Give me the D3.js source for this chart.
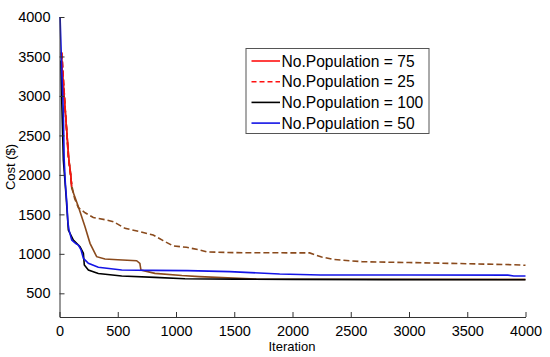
<!DOCTYPE html>
<html>
<head>
<meta charset="utf-8">
<script src="https://cdn.jsdelivr.net/npm/d3@7"></script>
<style>
  html, body { margin: 0; padding: 0; background: #fff; }
  svg { display: block; font-family: "Liberation Sans", Arial, sans-serif; }
</style>
</head>
<body>
<svg id="chart" width="550" height="357"></svg>
<script>
// ---- data ----
const xTicks = [0, 500, 1000, 1500, 2000, 2500, 3000, 3500, 4000];
const yTicks = [500, 1000, 1500, 2000, 2500, 3000, 3500, 4000];
const seriesNames = ["No.Population = 75", "No.Population = 25", "No.Population = 100", "No.Population = 50"];

// [iteration, cost]
const pop75 = [[15,3550],[25,3300],[45,2900],[60,2600],[80,2200],[97,2000],[105,1830],[162,1597],[219,1344],[262,1133],[319,964],[390,935],[500,925],[662,913],[690,880],[699,795],[819,753],[1050,725],[1200,712],[1690,682],[2500,679],[4000,677]];
const pop25 = [[20,3550],[48,2860],[76,2230],[105,1870],[130,1700],[162,1585],[220,1520],[290,1460],[405,1428],[462,1408],[562,1323],[690,1281],[804,1239],[890,1167],[976,1100],[1090,1083],[1204,1049],[1262,1025],[1500,1015],[2147,1012],[2250,960],[2350,930],[2600,900],[3000,890],[3500,875],[3900,862],[4000,855]];
const pop100 = [[11,3450],[20,2900],[33,2189],[57,1724],[76,1302],[119,1175],[176,1091],[205,1007],[213,859],[248,795],[333,752],[534,719],[819,702],[1076,685],[1500,680],[2000,677],[2800,673],[4000,671]];
const pop50 = [[5,4000],[20,3300],[33,2800],[40,2200],[50,1900],[63,1640],[72,1400],[82,1300],[105,1175],[140,1130],[162,1112],[185,1049],[205,943],[248,880],[333,829],[534,795],[800,790],[1100,787],[1460,775],[1890,744],[2240,732],[3000,732],[3850,730],[3900,719],[4000,719]];

const redTopLimit = 1850; // above this cost the "red" series are drawn red, below it brown

// ---- layout ----
const svg = d3.select("#chart");
const x = d3.scaleLinear().domain([0, 4000]).range([59.5, 525.5]);
const y = d3.scaleLinear().domain([200, 4000]).range([317, 17]);

const line = d3.line().x(d => x(d[0])).y(d => y(d[1]));

svg.append("defs").append("clipPath").attr("id", "redclip")
  .append("rect").attr("x", 0).attr("y", 0).attr("width", 550).attr("height", y(redTopLimit));

const RED = "#ff1010", BROWN = "#8a4a1c", BLACK = "#000000", BLUE = "#1414e6";

const g = svg.append("g");
// 75 solid
g.append("path").datum(pop75).attr("d", line).attr("fill", "none").attr("stroke", BROWN).attr("stroke-width", 1.6);
g.append("path").datum(pop75).attr("d", line).attr("fill", "none").attr("stroke", RED).attr("stroke-width", 1.6).attr("clip-path", "url(#redclip)");
// 25 dashed
g.append("path").datum(pop25).attr("d", line).attr("fill", "none").attr("stroke", BROWN).attr("stroke-width", 1.6).attr("stroke-dasharray", "6,3");
g.append("path").datum(pop25).attr("d", line).attr("fill", "none").attr("stroke", RED).attr("stroke-width", 1.6).attr("stroke-dasharray", "6,3").attr("clip-path", "url(#redclip)");
// 100
g.append("path").datum(pop100).attr("d", line).attr("fill", "none").attr("stroke", BLACK).attr("stroke-width", 1.6);
// 50
g.append("path").datum(pop50).attr("d", line).attr("fill", "none").attr("stroke", BLUE).attr("stroke-width", 1.6);

// ---- axes ----
const xAxis = d3.axisBottom(x).tickValues(xTicks).tickSizeInner(-5).tickSizeOuter(0).tickPadding(9).tickFormat(d3.format("d"));
const yAxis = d3.axisLeft(y).tickValues(yTicks).tickSizeInner(-5).tickSizeOuter(0).tickPadding(9).tickFormat(d3.format("d"));

const gx = svg.append("g").attr("transform", `translate(0,${y(200)})`).call(xAxis);
const gy = svg.append("g").attr("transform", `translate(${x(0)},0)`).call(yAxis);
[gx, gy].forEach(a => {
  a.select(".domain").attr("stroke", "#333").attr("stroke-width", 1);
  a.selectAll(".tick line").attr("stroke", "#333");
  a.selectAll(".tick text").attr("fill", "#000").style("font-size", "14.5px").style("font-family", "'Liberation Sans', Arial, sans-serif");
});

svg.append("text").attr("x", 292).attr("y", 351).attr("text-anchor", "middle")
  .style("font-size", "13px").text("Iteration");
svg.append("text").attr("transform", "translate(15,167) rotate(-90)").attr("text-anchor", "middle")
  .style("font-size", "13px").text("Cost ($)");

// ---- legend ----
const legend = svg.append("g");
legend.append("rect").attr("x", 246).attr("y", 48.5).attr("width", 183).attr("height", 85)
  .attr("fill", "#fff").attr("stroke", "#555").attr("stroke-width", 1);
const legColors = [RED, RED, BLACK, BLUE];
const legDash = [null, "5,3", null, null];
seriesNames.forEach((name, i) => {
  const cy = 61 + i * 20.7;
  legend.append("line").attr("x1", 251.5).attr("x2", 280).attr("y1", cy).attr("y2", cy)
    .attr("stroke", legColors[i]).attr("stroke-width", 1.6).attr("stroke-dasharray", legDash[i]);
  legend.append("text").attr("x", 281.5).attr("y", cy).attr("dy", "0.36em")
    .style("font-size", "15.6px").text(name);
});
</script>
</body>
</html>
